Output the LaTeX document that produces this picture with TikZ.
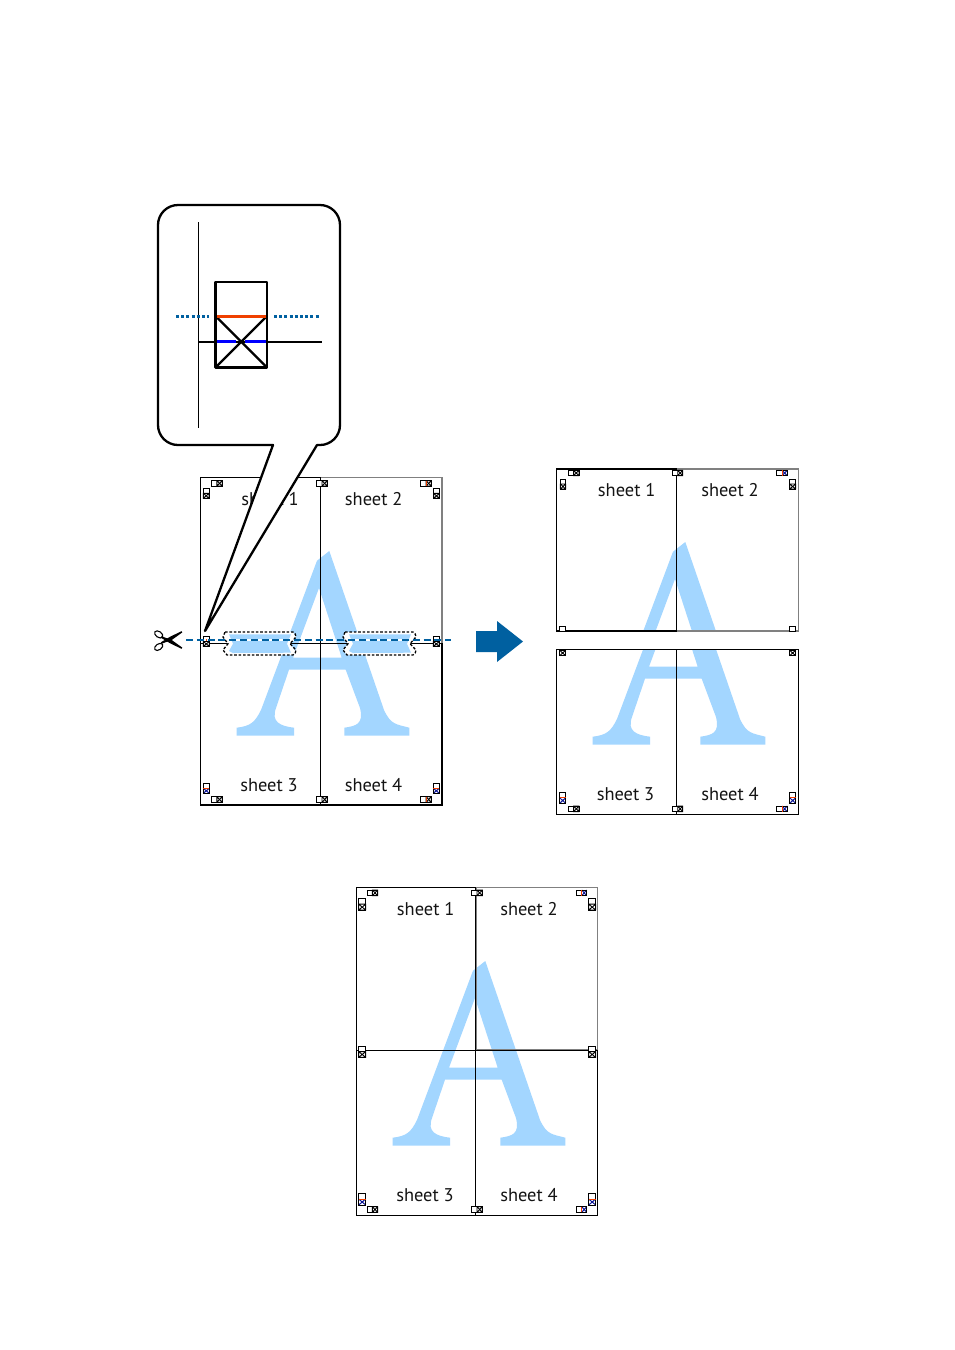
\documentclass[tikz,border=0pt]{standalone}
\usepackage{fontspec}
\setmainfont{PT Sans}
\usetikzlibrary{calc}
\definecolor{aBlue}{RGB}{163,214,255}
\definecolor{cutBlue}{RGB}{0,96,160}
\definecolor{regRed}{RGB}{240,64,0}
\definecolor{regBlue}{RGB}{0,0,255}
\definecolor{darkBlue}{RGB}{10,20,150}
\tikzset{
 frame/.style={draw=black,line width=1.1pt},
 grayframe/.style={draw=black!50,line width=1.2pt},
 sheetlabel/.style={inner sep=0pt,font=\fontsize{18.4}{20}\selectfont,text=black!92},
 markline/.style={draw=black,line width=1pt,fill=white},
 markcross/.style={draw=black,line width=.9pt},
 thick callout/.style={draw=black,line width=2.3pt,line join=round},
 cutline/.style={draw=cutBlue,line width=1.7pt,dash pattern=on 7pt off 3.8pt},
 dotcut/.style={draw=cutBlue,line width=2.4pt,dash pattern=on 3pt off 2.2pt},
 bandedge/.style={draw=black,line width=1.3pt,dash pattern=on 2.6pt off 1.8pt},
 scissorblade/.style={fill=black},
 scissorring/.style={draw=black,line width=1.1pt},
}
\newcommand{\letterA}[2]{%
 \fill[aBlue,even odd rule,shift={(#1,#2)}]
 (105.3,11) -- (160,170) .. controls (167,185) and (172,184) .. (185.3,187.7) -- (185.3,195.7) -- (120.3,195.7) -- (120.3,187.7)
 .. controls (132,186) and (140,184) .. (136,168) -- (121.7,129.7) -- (65,129.7) -- (52,168) .. controls (47,182) and (56,186) .. (70,187.7) -- (70,195.7) -- (12.7,195.7) -- (12.7,187.7)
 .. controls (27,186) and (31,182) .. (37,170) -- (93,20.7) -- cycle
 (69,117.7) -- (117.7,117.7) -- (95,48) -- cycle;}
% horizontal mark: left half empty, right half crossed
\newcommand{\hmark}[4]{%
 \draw[markline] (#1,#3) rectangle (#2,#4);
 \draw[markcross] ({(#1+#2)/2},#3) rectangle (#2,#4)
  ({(#1+#2)/2},#3) -- (#2,#4) ({(#1+#2)/2},#4) -- (#2,#3);}
% same with a red rule
\newcommand{\hmarkr}[4]{%
 \hmark{#1}{#2}{#3}{#4}
 \draw[regRed,line width=1pt] ({(#1+#2)/2},#3) -- ({(#1+#2)/2},#4);}
% same with a red rule and a blue cross
\newcommand{\hmarkc}[4]{%
 \draw[markline] (#1,#3) rectangle (#2,#4);
 \draw[darkBlue,line width=1pt] ({(#1+#2)/2},#3) -- (#2,#4) ({(#1+#2)/2},#4) -- (#2,#3);
 \draw[markcross] ({(#1+#2)/2},#3) rectangle (#2,#4);
 \draw[regRed,line width=1pt] ({(#1+#2)/2},#3) -- ({(#1+#2)/2},#4);}
% vertical mark: top half empty, bottom half crossed
\newcommand{\vmark}[4]{%
 \draw[markline] (#1,#3) rectangle (#2,#4);
 \draw[markcross] (#1,{(#3+#4)/2}) rectangle (#2,#4)
  (#1,{(#3+#4)/2}) -- (#2,#4) (#2,{(#3+#4)/2}) -- (#1,#4);}
\newcommand{\vmarkc}[4]{%
 \draw[markline] (#1,#3) rectangle (#2,#4);
 \draw[darkBlue,line width=1pt] (#1,{(#3+#4)/2}) -- (#2,#4) (#2,{(#3+#4)/2}) -- (#1,#4);
 \draw[markcross] (#1,{(#3+#4)/2}) rectangle (#2,#4);
 \draw[regRed,line width=1pt] (#1,{(#3+#4)/2}) -- (#2,{(#3+#4)/2});}
% fully crossed small square
\newcommand{\xmark}[4]{%
 \draw[markline] (#1,#3) rectangle (#2,#4);
 \draw[markcross] (#1,#3) -- (#2,#4) (#2,#3) -- (#1,#4);}
% overlap band, dashed edge
\newcommand{\bandshape}[1]{%
 \begin{scope}[xshift=#1]
 \fill[white] (225,632) -- (293,632) -- (296,637) -- (290,643.7) -- (296,652) -- (293,655) -- (227,655) -- (223,650) -- (228,643.7) -- (223,637) -- cycle;
 \fill[aBlue] (229,634.3) -- (291,634.3) -- (287,643.7) -- (291,652.7) -- (233,653) -- (229,651) -- (233,643.7) -- cycle;
 \draw[white,line width=2.4pt] (226,640) -- (294,640);
 \path[bandedge] (225,632) -- (293,632) .. controls (295,633) and (296,635) .. (296,637) -- (290,643.7) -- (296,650) .. controls (296,652) and (295,654) .. (293,655) -- (227,655) -- (223,650) -- (228,643.7) -- (223,637) -- cycle;
 \end{scope}}
\begin{document}
\begin{tikzpicture}[x=1pt,y=-1pt]
\useasboundingbox (0,0) rectangle (954,1350);
\fill[white] (0,0) rectangle (954,1350);

%% ---- left figure
\letterA{224}{540}
\draw[grayframe] (320.5,477.3) -- (442,477.3) -- (442,643);
\draw[frame] (320.5,477.3) -- (200.5,477.3) -- (200.5,805) -- (442,805) -- (442,643);
\draw[frame] (320.5,477.3) -- (320.5,805);
\draw[frame] (200.5,643.3) -- (442,643.3);
\bandshape{0pt}
\bandshape{120pt}
\hmark{211.3}{222.3}{480.7}{486}
\vmark{203.3}{209}{488.3}{498.3}
\hmark{316.7}{327.3}{480.7}{486}
\hmarkr{420.7}{431.3}{480.7}{486}
\vmark{433.7}{439.3}{488.3}{498.3}
\vmarkc{203.3}{209.3}{783.3}{793.3}
\vmarkc{433.3}{439.3}{783.3}{793.3}
\hmark{211.3}{222.3}{796.7}{802.3}
\hmark{316.7}{327.3}{796.7}{802.3}
\hmarkr{420.7}{431.3}{796.7}{802.3}
\vmark{203.3}{209.3}{636.7}{646.3}
\vmark{433.3}{439.3}{636.7}{646.3}
\node[sheetlabel] (la) at (270,499) {sheet 1};
\node[sheetlabel] (lb) at (373.7,499) {sheet 2};
\node[sheetlabel] (lc) at (269,785.5) {sheet 3};
\node[sheetlabel] (ld) at (373.5,785.5) {sheet 4};

%% cut line and scissors
\coordinate (cutA) at (186,640);
\coordinate (cutB) at (451,640);
\draw[cutline] (cutA) -- (cutB);
\fill[regRed] (205.5,639) rectangle (207,640.6);
\draw[scissorring,rotate around={-35:(158.7,634.4)}] (158.7,634.4) ellipse[x radius=4.6pt,y radius=2.9pt];
\draw[scissorring,rotate around={35:(158.7,646.9)}] (158.7,646.9) ellipse[x radius=4.6pt,y radius=2.9pt];
\fill[scissorblade] (182.3,647.6) -- (172,640.2) -- (161.5,636.2) -- (161,637.8) -- (170,643.2) -- (181.5,648.8) -- cycle;
\fill[scissorblade] (182.3,632.4) -- (172,639.8) -- (161.5,643.8) -- (161,642.2) -- (170,636.8) -- (181.5,631.2) -- cycle;

%% callout
\draw[thick callout,fill=white] (178,205) -- (320,205) arc[start angle=-90,end angle=0,radius=20] -- (340,425) arc[start angle=0,end angle=90,radius=20] -- (317,445) -- (205,631) -- (273,445) -- (178,445) arc[start angle=90,end angle=180,radius=20] -- (158,225) arc[start angle=180,end angle=270,radius=20] -- cycle;
\draw[line width=1.2pt] (198.5,222) -- (198.5,428);
\draw[line width=1.5pt] (198.5,342) -- (322,342);
\draw[dotcut] (176,316.3) -- (209,316.3);
\draw[dotcut] (274,316.3) -- (320,316.3);
\draw[line width=2.6pt,line join=round] (215.5,282) rectangle (267,367.5);
\draw[line width=2.4pt] (215.5,316) -- (267,367.5) (267,316) -- (215.5,367.5);
\draw[regRed,line width=2.6pt] (217,316.3) -- (265.5,316.3);
\draw[regBlue,line width=2.6pt] (217,341.6) -- (236,341.6) (245,341.6) -- (265.5,341.6);

%% arrow
\fill[cutBlue] (476,631) -- (497,631) -- (497,621) -- (523,641.5) -- (497,662) -- (497,652) -- (476,652) -- cycle;

%% ---- right figure
\begin{scope}
 \clip (556,468) rectangle (799,631);
 \letterA{580}{531}
\end{scope}
\begin{scope}
 \clip (556,649) rectangle (799,815);
 \letterA{580}{549}
\end{scope}
\draw[grayframe] (676.7,469) -- (798.5,469) -- (798.5,631) -- (676.7,631);
\draw[frame] (676.7,469) -- (556.5,469) -- (556.5,631) -- (676.7,631) -- cycle;
\draw[frame] (556.5,649.5) rectangle (798.5,814.3);
\draw[frame] (676.7,649.5) -- (676.7,814.3);
\hmark{568.3}{579}{470.3}{475.7}
\vmark{560.3}{565.7}{479}{489}
\hmark{672.7}{682.7}{470.3}{475.7}
\hmarkc{776.7}{787.3}{470.3}{475.7}
\vmark{789.7}{795.7}{479}{489}
\draw[markline] (559.7,626) rectangle (565.7,631);
\draw[markline] (789.7,626) rectangle (795.7,631);
\xmark{559.7}{565.7}{650.3}{655.7}
\xmark{789.7}{795.7}{650.3}{655.7}
\vmarkc{559.7}{565.7}{792.3}{803.3}
\vmarkc{789.7}{795.7}{792.3}{803.3}
\hmark{568.3}{579}{806}{811.7}
\hmark{672.7}{682.7}{806}{811.7}
\hmarkc{776.7}{787.3}{806}{811.7}
\node[sheetlabel] (ra) at (626.7,490) {sheet 1};
\node[sheetlabel] (rb) at (730,490) {sheet 2};
\node[sheetlabel] (rc) at (625.5,794.5) {sheet 3};
\node[sheetlabel] (rd) at (730,794.5) {sheet 4};

%% ---- bottom figure
\letterA{380}{950}
\draw[grayframe] (476.3,887.5) -- (597.7,887.5) -- (597.7,1049.7) -- (476.3,1049.7) -- cycle;
\draw[frame] (475.7,887.5) -- (356.5,887.5) -- (356.5,1215.3) -- (597.7,1215.3) -- (597.7,1050.3);
\draw[frame] (475.7,887.5) -- (475.7,1215.3);
\draw[frame] (356.5,1050.3) -- (597.7,1050.3);
\hmark{367}{377.7}{890}{895.7}
\vmark{358.7}{365.7}{898.3}{910}
\hmark{471.7}{482.3}{890}{895.7}
\hmarkc{576.7}{586.7}{890}{895.7}
\vmark{588.7}{595.7}{898.3}{910}
\vmark{358.7}{365.7}{1046}{1057.3}
\vmark{588.7}{595.7}{1046}{1057.3}
\vmarkc{358.7}{365.7}{1193}{1205}
\vmarkc{588.7}{595.7}{1193}{1205}
\hmark{367}{377.7}{1206.7}{1212.3}
\hmark{471.7}{482.3}{1206.7}{1212.3}
\hmarkc{576.7}{586.7}{1206.7}{1212.3}
\node[sheetlabel] (fa) at (425.7,909) {sheet 1};
\node[sheetlabel] (fb) at (529,909) {sheet 2};
\node[sheetlabel] (fc) at (425,1195.5) {sheet 3};
\node[sheetlabel] (fd) at (529,1195.5) {sheet 4};
\end{tikzpicture}
\end{document}
